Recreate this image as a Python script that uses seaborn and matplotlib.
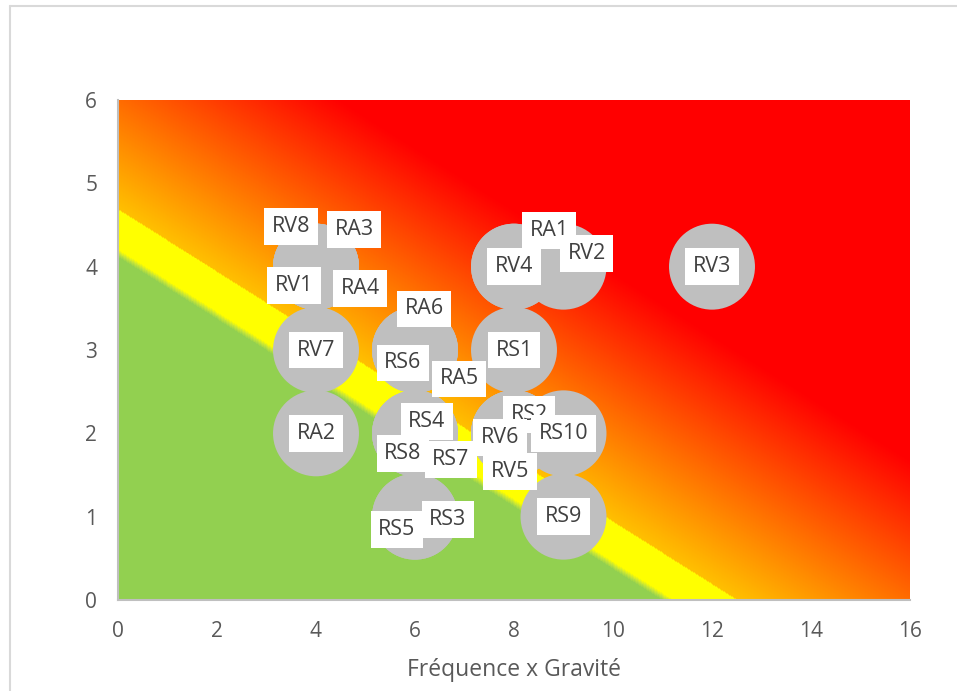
import numpy as np
import pandas as pd
import matplotlib
matplotlib.use("Agg")
import matplotlib.pyplot as plt
from matplotlib.colors import LinearSegmentedColormap
from matplotlib.lines import Line2D
import seaborn as sns

# Risk identifiers with their (frequency x severity, level) coordinates
risks = ["RV8", "RA3", "RV1", "RA4", "RV7", "RA2",
         "RA6", "RS6", "RA5", "RS4", "RS8", "RS7", "RS3", "RS5",
         "RV4", "RA1", "RV2", "RV3", "RS1",
         "RS2", "RV6", "RV5", "RS10", "RS9"]
freq_x_grav = [4, 4, 4, 4, 4, 4,
               6, 6, 6, 6, 6, 6, 6, 6,
               8, 8, 9, 12, 8,
               8, 8, 8, 9, 9]
level = [4, 4, 4, 4, 3, 2,
         3, 3, 3, 2, 2, 2, 1, 1,
         4, 4, 4, 4, 3,
         2, 2, 2, 2, 1]

x_ticks = [0, 2, 4, 6, 8, 10, 12, 14, 16]
y_ticks = [0, 1, 2, 3, 4, 5, 6]
x_title = "Fréquence x Gravité"

# Label placement around shared bubbles (screen pixels, y up)
label_offset = {
    "RV8": (-25, 40), "RA3": (38, 37), "RV1": (-22, -19), "RA4": (44, -22),
    "RV7": (0, 0), "RA2": (0, 0),
    "RA6": (9, 41), "RS6": (-12, -13), "RA5": (44, -29),
    "RS4": (12, 12), "RS8": (-12, -20), "RS7": (36, -26),
    "RS3": (33, -3), "RS5": (-18, -13),
    "RV4": (0, 0), "RA1": (35, 36), "RV2": (23, 13), "RV3": (0, 0), "RS1": (0, 0),
    "RS2": (15, 19), "RV6": (-14, -4), "RV5": (-4, -38), "RS10": (0, 0), "RS9": (0, 0),
}

df = pd.DataFrame({"risk": risks, "fg": freq_x_grav, "level": level})

sns.set_theme(style="white")
plt.rcParams["font.family"] = ["Open Sans", "DejaVu Sans"]

fig = plt.figure(figsize=(9.57, 6.91), dpi=100)
ax = fig.add_axes([118 / 957, 1 - 600 / 691, 792 / 957, 500 / 691])

# Risk zones: green -> yellow band -> orange -> red along the diagonal
zone_cmap = LinearSegmentedColormap.from_list("zones", [
    (0.0, "#92D050"), (0.343, "#92D050"), (0.347, "#C4E43A"), (0.351, "#FFFF00"),
    (0.3905, "#FFFF00"), (0.3915, "#FFC000"), (0.64, "#FF0000"), (1.0, "#FF0000"),
], N=1024)
gx = np.linspace(0, 16, 1600)
gy = np.linspace(0, 6, 1000)
GX, GY = np.meshgrid(gx, gy)
T = (GX / 16 + GY / 6) / 2
ax.imshow(T, extent=[0, 16, 0, 6], origin="lower", aspect="auto",
          cmap=zone_cmap, vmin=0, vmax=1, interpolation="nearest", zorder=0)

sns.scatterplot(data=df, x="fg", y="level", s=3830, color="#BFBFBF",
                edgecolor="none", linewidth=0, legend=False, ax=ax, zorder=2)

for name, xv, yv in zip(risks, freq_x_grav, level):
    dx, dy = label_offset[name]
    ax.annotate(name, (xv, yv), xytext=(dx, dy), textcoords="offset pixels",
                ha="center", va="center", fontsize=15.5, color="#404040",
                bbox=dict(boxstyle="square,pad=0.36", fc="white", ec="none"),
                zorder=3, annotation_clip=False)

ax.set_xlim(0, 16)
ax.set_ylim(0, 6)
ax.set_xticks(x_ticks)
ax.set_yticks(y_ticks)
ax.set_xlabel(x_title, fontsize=16.5, color="#595959", labelpad=12)
ax.set_ylabel("")
ax.tick_params(length=0, labelsize=15, labelcolor="#595959")
ax.tick_params(axis="x", pad=15)
ax.tick_params(axis="y", pad=15)
for side in ["top", "right"]:
    ax.spines[side].set_visible(False)
for side in ["left", "bottom"]:
    ax.spines[side].set_color("#BFBFBF")
    ax.spines[side].set_linewidth(1.5)
    ax.spines[side].set_zorder(4)
ax.grid(False)

# Chart frame
fig.add_artist(Line2D([10 / 957, 1], [1 - 6 / 691, 1 - 6 / 691], transform=fig.transFigure,
                      color="#D9D9D9", lw=1.5))
fig.add_artist(Line2D([10 / 957, 10 / 957], [0, 1 - 6 / 691], transform=fig.transFigure,
                      color="#D9D9D9", lw=1.5))

fig.savefig("out.png", dpi=100)
